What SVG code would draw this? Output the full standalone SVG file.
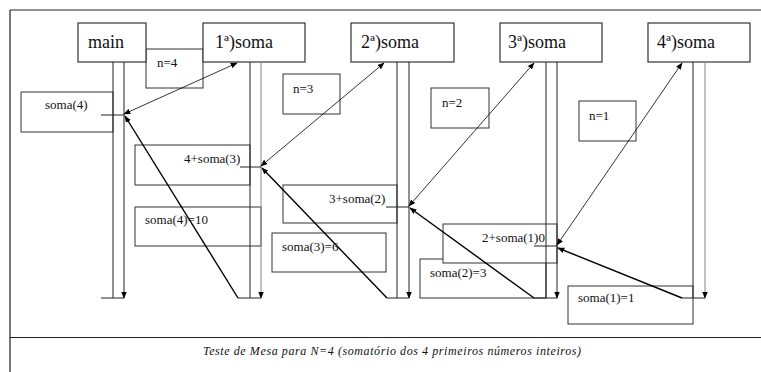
<svg xmlns="http://www.w3.org/2000/svg" width="761" height="372" viewBox="0 0 761 372">
<defs>
<marker id="ah" viewBox="0 0 10 10" refX="9" refY="5" markerWidth="7" markerHeight="7" markerUnits="userSpaceOnUse" orient="auto-start-reverse">
<path d="M0,1 L10,5 L0,9 Z" fill="#000"/>
</marker>
<marker id="ahd" viewBox="0 0 10 10" refX="9" refY="5" markerWidth="7" markerHeight="7" markerUnits="userSpaceOnUse" orient="auto">
<path d="M0,1 L10,5 L0,9 Z" fill="#000"/>
</marker>
</defs>
<style>
.frame{fill:none;stroke:#222;stroke-width:1.2}
.hdr{fill:#fff;stroke:#333;stroke-width:1.2}
.box{fill:#fff;stroke:#333;stroke-width:1}
.ll{stroke:#222;stroke-width:1;fill:none}
.llg{stroke:#888;stroke-width:1;fill:none}
.call{stroke:#000;stroke-width:0.8;fill:none}
.ret{stroke:#000;stroke-width:1.4;fill:none}
.tick{stroke:#222;stroke-width:1;fill:none}
</style>
<rect width="761" height="372" fill="#fff"/>
<g id="frame">
<path class="frame" d="M10,10 H761 M10,10 V372 M10,337.5 H761"/>
<text font-family="'Liberation Serif', 'Times New Roman', 'DejaVu Serif', serif" font-size="12" font-style="italic" fill="#111" x="392" y="355" text-anchor="middle" textLength="378" lengthAdjust="spacing">Teste de Mesa para N=4 (somatório dos 4 primeiros números inteiros)</text>
</g>
<g font-family="'Liberation Serif', 'Times New Roman', 'DejaVu Serif', serif" font-size="13" fill="#111">
<g id="box-soma4"><rect class="box" x="21" y="92" width="92" height="40"/><text x="45" y="109">soma(4)</text></g>
<g id="box-n4"><rect class="box" x="146" y="49" width="57" height="39"/><text x="157" y="67">n=4</text></g>
<g id="box-4soma3"><rect class="box" x="135" y="145" width="115" height="40"/><text x="184" y="163">4+soma(3)</text></g>
<g id="box-soma4-10"><rect class="box" x="135" y="207" width="126" height="39"/><text x="145" y="224">soma(4)=10</text></g>
<g id="box-n3"><rect class="box" x="283" y="74" width="57" height="40"/><text x="293" y="93">n=3</text></g>
<g id="box-3soma2"><rect class="box" x="283" y="185" width="114" height="38"/><text x="329" y="203">3+soma(2)</text></g>
<g id="box-soma3-6"><rect class="box" x="272" y="233" width="114" height="39"/><text x="282" y="251">soma(3)=6</text></g>
<g id="box-n2"><rect class="box" x="431" y="88" width="58" height="40"/><text x="442" y="107">n=2</text></g>
<g id="box-soma2-3"><rect class="box" x="420" y="259" width="126" height="39"/><text x="430" y="277">soma(2)=3</text></g>
<g id="box-2soma1"><rect class="box" x="443" y="224" width="114" height="39"/><text x="482" y="242">2+soma(1)0</text></g>
<g id="box-n1"><rect class="box" x="579" y="101" width="57" height="40"/><text x="589" y="120">n=1</text></g>
<g id="box-soma1-1"><rect class="box" x="568" y="286" width="125" height="38"/><text x="578" y="302">soma(1)=1</text></g>
</g>
<g font-family="'Liberation Serif', 'Times New Roman', 'DejaVu Serif', serif" font-size="18" fill="#111">
<g id="main"><rect class="hdr" x="78" y="23" width="68" height="39"/><text x="88" y="48">main</text></g>
<g id="soma1"><rect class="hdr" x="203" y="23" width="102" height="39"/><text x="215" y="48">1ª)soma</text></g>
<g id="soma2"><rect class="hdr" x="351" y="23" width="103" height="39"/><text x="361" y="48">2ª)soma</text></g>
<g id="soma3"><rect class="hdr" x="500" y="23" width="102" height="39"/><text x="508" y="48">3ª)soma</text></g>
<g id="soma4"><rect class="hdr" x="648" y="23" width="102" height="39"/><text x="657" y="48">4ª)soma</text></g>
</g>
<g id="connectors">
<line class="ll" x1="113" y1="62" x2="113" y2="298"/>
<line class="ll" x1="124" y1="62" x2="124" y2="298" marker-end="url(#ahd)"/>
<path class="tick" d="M101,115 H124 M101,298 H124"/>
<line class="ll" x1="250" y1="62" x2="250" y2="298"/>
<line class="llg" x1="261" y1="62" x2="261" y2="298" marker-end="url(#ahd)"/>
<path class="tick" d="M240,167 H261 M238,298 H261"/>
<line class="ll" x1="397" y1="62" x2="397" y2="298"/>
<line class="ll" x1="409" y1="62" x2="409" y2="298" marker-end="url(#ahd)"/>
<path class="tick" d="M386,207 H409 M387,298 H409"/>
<line class="ll" x1="546" y1="62" x2="546" y2="298"/>
<line class="ll" x1="557" y1="62" x2="557" y2="298" marker-end="url(#ahd)"/>
<path class="tick" d="M534,246 H557 M534,298 H557"/>
<line class="ll" x1="693" y1="62" x2="693" y2="298"/>
<line class="llg" x1="705" y1="62" x2="705" y2="298" marker-end="url(#ahd)"/>
<path class="tick" d="M682,298 H705"/>
<line class="call" x1="124" y1="114" x2="237" y2="63" marker-start="url(#ah)" marker-end="url(#ah)"/>
<line class="call" x1="261" y1="166" x2="384" y2="63" marker-start="url(#ah)" marker-end="url(#ah)"/>
<line class="call" x1="409" y1="206" x2="534" y2="63" marker-start="url(#ah)" marker-end="url(#ah)"/>
<line class="call" x1="557" y1="245" x2="682" y2="63" marker-start="url(#ah)" marker-end="url(#ah)"/>
<line class="ret" x1="238" y1="298" x2="125" y2="116" marker-end="url(#ahd)"/>
<line class="ret" x1="387" y1="298" x2="262" y2="168" marker-end="url(#ahd)"/>
<line class="ret" x1="534" y1="298" x2="410" y2="208" marker-end="url(#ahd)"/>
<line class="ret" x1="682" y1="298" x2="558" y2="248" marker-end="url(#ahd)"/>
</g>
</svg>
